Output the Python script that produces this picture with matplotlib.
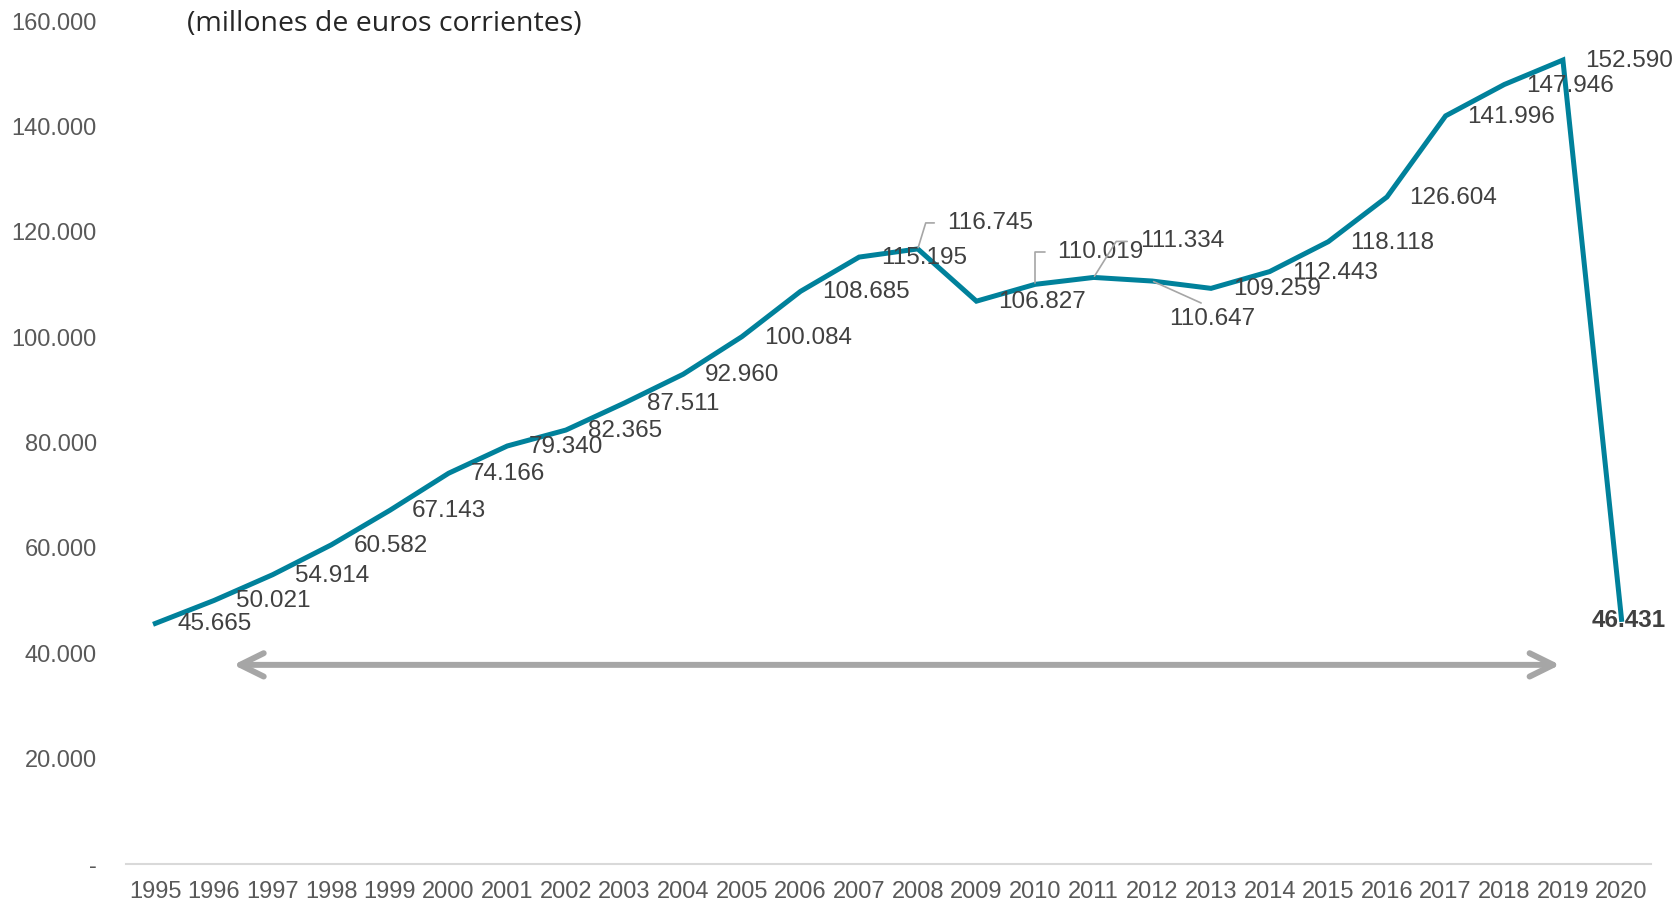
import matplotlib

matplotlib.use("Agg")
import matplotlib.pyplot as plt

years = [str(y) for y in range(1995, 2021)]
valores = [45665, 50021, 54914, 60582, 67143, 74166, 79340, 82365, 87511, 92960,
           100084, 108685, 115195, 116745, 106827, 110019, 111334, 110647, 109259,
           112443, 118118, 126604, 141996, 147946, 152590, 46431]
etiquetas = ["45.665", "50.021", "54.914", "60.582", "67.143", "74.166", "79.340",
             "82.365", "87.511", "92.960", "100.084", "108.685", "115.195", "116.745",
             "106.827", "110.019", "111.334", "110.647", "109.259", "112.443",
             "118.118", "126.604", "141.996", "147.946", "152.590", "46.431"]
yticks = [0, 20000, 40000, 60000, 80000, 100000, 120000, 140000, 160000]
yticklabels = ["-", "20.000", "40.000", "60.000", "80.000", "100.000", "120.000",
               "140.000", "160.000"]

LINEA = "#00819B"
GRIS = "#A6A6A6"
TXT = "#404040"

plt.rcParams["font.family"] = ["Liberation Sans", "DejaVu Sans"]

fig = plt.figure(figsize=(16.76, 9.02), dpi=100)
ax = fig.add_axes([0.0752, 0.0421, 0.9098, 0.9346])

x = list(range(len(years)))
ax.plot(x, valores, color=LINEA, lw=3.6, solid_joinstyle="miter", zorder=3)

# etiquetas de datos (a la derecha del punto salvo casos especiales)
especiales = {
    13: dict(off=(29, 26), ang=73),
    15: dict(off=(22, 32), ang=90),
    16: dict(off=(46, 36), ang=58),
}
FS = 17.5
for i, (v, lab) in enumerate(zip(valores, etiquetas)):
    if i in especiales:
        e = especiales[i]
        ax.annotate(lab, (i, v), xytext=e["off"], textcoords="offset pixels",
                    ha="left", va="center", fontsize=FS, color=TXT, zorder=4,
                    arrowprops=dict(arrowstyle="-", color=GRIS, lw=1.2,
                                    relpos=(0, 0.5), shrinkA=7, shrinkB=1,
                                    connectionstyle=f"angle,angleA=0,angleB={e['ang']},rad=0"))
    elif i == 17:
        ax.annotate(lab, (i, v), xytext=(60, -38), textcoords="offset pixels",
                    ha="center", va="center", fontsize=FS, color=TXT, zorder=4,
                    arrowprops=dict(arrowstyle="-", color=GRIS, lw=1.2,
                                    relpos=(0.5, 1), shrinkA=4, shrinkB=1))
    elif i == len(valores) - 1:
        ax.annotate(lab, (i, v), xytext=(7, -1), textcoords="offset pixels",
                    ha="center", va="center", fontsize=FS, color=TXT,
                    fontweight="bold", zorder=4)
    else:
        ax.annotate(lab, (i, v), xytext=(22, -1), textcoords="offset pixels",
                    ha="left", va="center", fontsize=FS, color=TXT, zorder=4)

# flecha doble gris
ax.annotate("", xy=(1.33, 37800), xytext=(23.95, 37800),
            arrowprops=dict(arrowstyle="<->,head_length=0.85,head_width=0.42",
                            mutation_scale=20, color=GRIS, lw=4.3,
                            capstyle="round", joinstyle="round",
                            shrinkA=0, shrinkB=0), zorder=2)

ax.set_xlim(-0.5, len(years) - 0.5)
ax.set_ylim(0, 160000)
ax.set_xticks(x)
ax.set_xticklabels(years)
ax.set_yticks(yticks)
ax.set_yticklabels(yticklabels)
ax.tick_params(axis="x", length=0, pad=12, labelsize=17, labelcolor="#595959")
ax.tick_params(axis="y", length=0, pad=21, labelsize=17, labelcolor="#595959")

for s in ["top", "right", "left"]:
    ax.spines[s].set_visible(False)
ax.spines["bottom"].set_color("#D9D9D9")
ax.spines["bottom"].set_linewidth(1.5)

fig.text(0.1116, 0.9735, "(millones de euros corrientes)", ha="left", va="center",
         fontsize=20.5, color="#262626", family=["Open Sans", "DejaVu Sans"])

fig.savefig("out.png", dpi=100)
